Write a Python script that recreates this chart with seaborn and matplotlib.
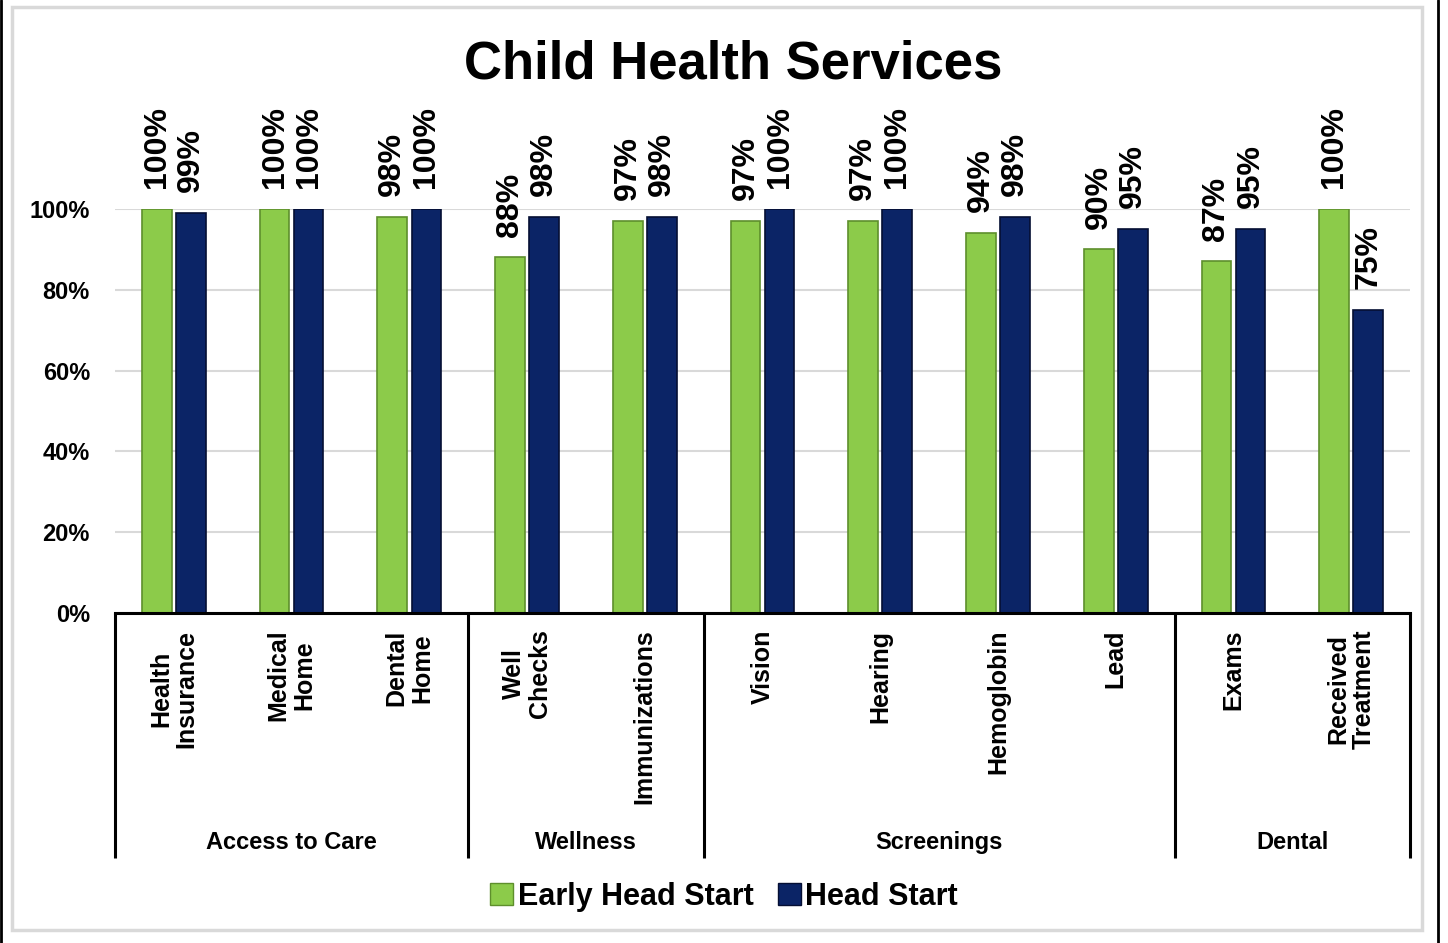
import numpy as np
import pandas as pd
import matplotlib.pyplot as plt
import seaborn as sns
from matplotlib.patches import Rectangle
from matplotlib.lines import Line2D

categories = ["Health\nInsurance", "Medical\nHome", "Dental\nHome", "Well\nChecks",
              "Immunizations", "Vision", "Hearing", "Hemoglobin", "Lead",
              "Exams", "Received\nTreatment"]
early_head_start = [100, 100, 98, 88, 97, 97, 97, 94, 90, 87, 100]
head_start = [99, 100, 100, 98, 98, 100, 100, 98, 95, 95, 75]
groups = ["Access to Care", "Wellness", "Screenings", "Dental"]
group_sizes = [3, 2, 4, 2]
programs = ["Early Head Start", "Head Start"]
colors = ["#8CCB4A", "#0B2466"]

df = pd.DataFrame({
    "category": categories * 2,
    "value": early_head_start + head_start,
    "program": [programs[0]] * len(categories) + [programs[1]] * len(categories),
})

sns.set_style("white")
plt.rcParams["font.family"] = ["Liberation Sans", "DejaVu Sans"]
plt.rcParams["font.weight"] = "bold"
plt.rcParams["text.color"] = "black"
plt.rcParams["xtick.color"] = "black"
plt.rcParams["ytick.color"] = "black"

fig = plt.figure(figsize=(14.48, 9.43), dpi=100)
ax = fig.add_axes([0.0794, 0.35, 0.8944, 0.4284])

sns.barplot(data=df, x="category", y="value", hue="program", order=categories,
            hue_order=programs, palette=colors, saturation=1, width=0.58, gap=0.13,
            ax=ax, legend=False, zorder=3)

# darker edge to hint at the bevel look
for cont, c in zip(ax.containers, ["#5E8F2C", "#050F33"]):
    for bar in cont:
        bar.set_edgecolor(c)
        bar.set_linewidth(1.2)
    ax.bar_label(cont, labels=[f"{int(b.get_height())}%" for b in cont],
                 rotation=90, padding=15, fontsize=23, fontweight="bold")

ax.set_xlim(-0.5, len(categories) - 0.5)
ax.set_ylim(0, 100)
ax.set_yticks(np.arange(0, 101, 20))
ax.set_yticklabels([f"{t}%" for t in range(0, 101, 20)], fontsize=17, fontweight="bold")
ax.yaxis.grid(True, color="#D9D9D9", linewidth=1.5, zorder=0)
ax.tick_params(axis="y", length=0, pad=18)
ax.tick_params(axis="x", length=0, pad=12)
ax.set_xticks(range(len(categories)))
ax.set_xticklabels(categories, rotation=90, fontsize=18, fontweight="bold",
                   va="top", ha="center", linespacing=1.1)
for lbl in ax.get_xticklabels():
    lbl.set_multialignment("center")
ax.set_xlabel("")
ax.set_ylabel("")
for s in ["top", "right", "left"]:
    ax.spines[s].set_visible(False)
ax.spines["bottom"].set_color("black")
ax.spines["bottom"].set_linewidth(2.2)
ax.spines["bottom"].set_zorder(5)

# group separators and labels under the axis
edges = np.concatenate([[0], np.cumsum(group_sizes)]) - 0.5
ax.vlines(edges, -60.6, 0, color="black", linewidth=2.2, clip_on=False)
for g, a, b in zip(groups, edges[:-1], edges[1:]):
    ax.text((a + b) / 2, -56.7, g, ha="center", va="center", fontsize=17,
            fontweight="bold", clip_on=False)

fig.text(0.506, 0.932, "Child Health Services", ha="center", va="center",
         fontsize=38, fontweight="bold")

handles = [Rectangle((0, 0), 1, 1, facecolor=colors[0], edgecolor="#5E8F2C"),
           Rectangle((0, 0), 1, 1, facecolor=colors[1], edgecolor="#050F33")]
fig.legend(handles, programs, loc="center", bbox_to_anchor=(0.5, 0.049), ncol=2,
           frameon=False, handlelength=0.75, handleheight=0.75,
           handletextpad=0.15, columnspacing=0.8, prop={"weight": "bold", "size": 22})

# chart frame
fig.patches.append(Rectangle((12 / 1448, 1 - 930 / 943), (1422 - 12) / 1448,
                             (930 - 7) / 943, transform=fig.transFigure,
                             fill=False, edgecolor="#D9D9D9", linewidth=2.5))
fig.lines.append(Line2D([0.0008, 0.0008], [0, 1], transform=fig.transFigure,
                        color="black", linewidth=2))
fig.lines.append(Line2D([1437.5 / 1448, 1437.5 / 1448], [0, 1], transform=fig.transFigure,
                        color="black", linewidth=2))

fig.savefig("out.png", dpi=100)
